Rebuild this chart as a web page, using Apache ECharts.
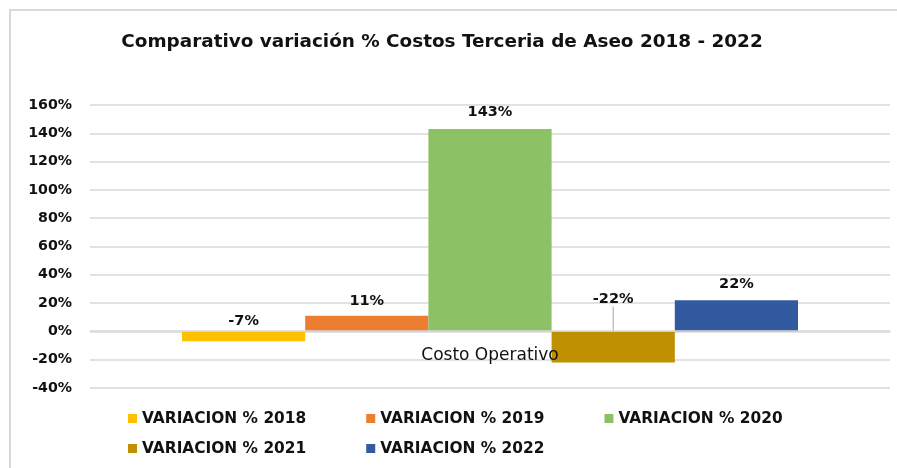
<!DOCTYPE html>
<html>
<head>
<meta charset="utf-8">
<script src="https://cdn.jsdelivr.net/npm/echarts@6/dist/echarts.min.js"></script>
<style>
  html, body { margin: 0; padding: 0; background: #fff; }
  #chart { width: 897px; height: 468px; }
</style>
</head>
<body>
<div id="chart"></div>
<script>
const categories = ['Costo Operativo'];
const seriesNames = ['VARIACION % 2018', 'VARIACION % 2019', 'VARIACION % 2020', 'VARIACION % 2021', 'VARIACION % 2022'];
const seriesValues = [-0.07, 0.11, 1.43, -0.22, 0.22];
const seriesColors = ['#FFC000', '#ED7D31', '#8CC165', '#BF9000', '#3359A1'];
const yTicks = { min: -0.4, max: 1.6, interval: 0.2 };

const FONT = '"DejaVu Sans", sans-serif';
// label gap above each bar, as placed in the original
const labelGap = [3, 7, 9, 5, 9];

const chart = echarts.init(document.getElementById('chart'));

const series = seriesNames.map((name, i) => {
  const s = {
    name: name,
    type: 'bar',
    barGap: '0%',
    barCategoryGap: '23%',
    itemStyle: { color: seriesColors[i] },
    label: {
      show: true,
      position: 'top',
      distance: labelGap[i],
      fontFamily: FONT,
      fontWeight: 'bold',
      fontSize: 14.5,
      color: '#111',
      formatter: p => Math.round(p.value * 100) + '%'
    },
    data: [seriesValues[i]]
  };
  if (i === 3) {
    // label lifted above the zero line, with a leader line like the original
    s.labelLayout = { dy: -20 };
    s.labelLine = { show: true, lineStyle: { color: '#a6a6a6', width: 1 } };
  }
  return s;
});

const legendText = { fontFamily: FONT, fontWeight: 'bold', fontSize: 15.4, color: '#111' };

chart.setOption({
  animation: false,
  title: {
    text: 'Comparativo variación % Costos Terceria de Aseo 2018 - 2022',
    left: 437,
    textAlign: 'center',
    top: 28,
    textStyle: { fontFamily: FONT, fontWeight: 'bold', fontSize: 18.4, color: '#111' }
  },
  graphic: [{
    type: 'rect',
    shape: { x: 10, y: 10, width: 900, height: 480 },
    style: { fill: 'none', stroke: '#d9d9d9', lineWidth: 2 },
    silent: true
  }],
  legend: [
    {
      data: seriesNames.slice(0, 3),
      left: 123, top: 406,
      itemWidth: 9, itemHeight: 9, itemGap: 60,
      icon: 'rect',
      textStyle: legendText
    },
    {
      data: seriesNames.slice(3),
      left: 123, top: 436,
      itemWidth: 9, itemHeight: 9, itemGap: 60,
      icon: 'rect',
      textStyle: legendText
    }
  ],
  grid: { left: 90, right: 7, top: 105, bottom: 80 },
  xAxis: {
    type: 'category',
    data: categories,
    z: 10,
    offset: -57,
    axisLine: { onZero: false, lineStyle: { color: '#d9d9d9', width: 1.5 } },
    axisTick: { show: false },
    axisLabel: { margin: 16, fontFamily: FONT, fontSize: 17, color: '#111' }
  },
  yAxis: {
    type: 'value',
    min: yTicks.min, max: yTicks.max, interval: yTicks.interval,
    axisLine: { show: false },
    axisTick: { show: false },
    splitLine: { lineStyle: { color: '#d9d9d9', width: 1.5 } },
    axisLabel: {
      margin: 18,
      fontFamily: FONT, fontWeight: 'bold', fontSize: 14.2, color: '#111',
      formatter: v => Math.round(v * 100) + '%'
    }
  },
  series: series
});
</script>
</body>
</html>
